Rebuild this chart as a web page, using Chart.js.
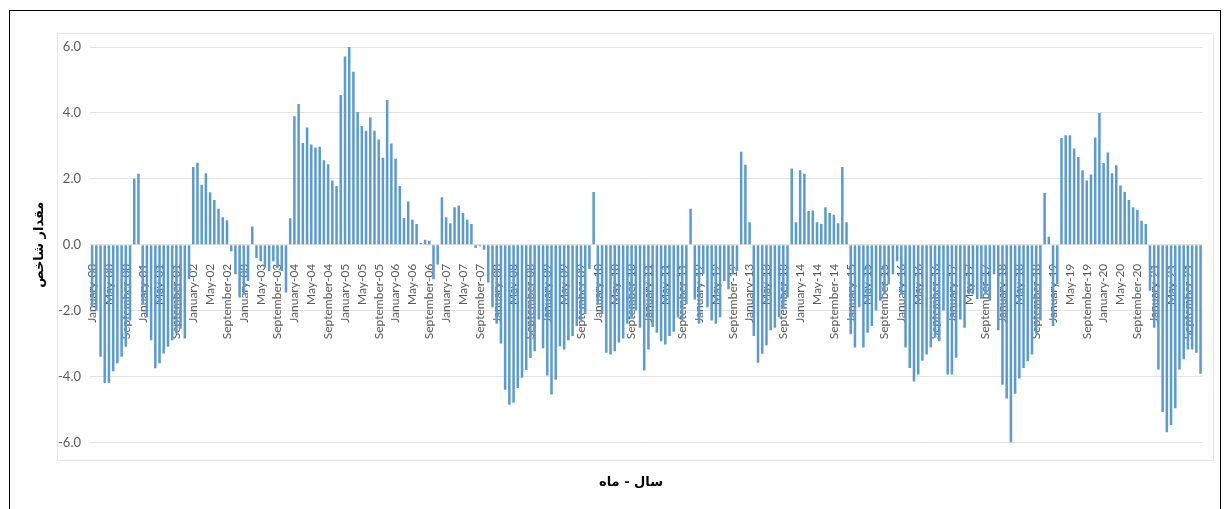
<!DOCTYPE html>
<html>
<head>
<meta charset="utf-8">
<script src="https://cdn.jsdelivr.net/npm/chart.js@4.4.0/dist/chart.umd.min.js"></script>
<style>
  html, body { margin: 0; padding: 0; background: #fff; }
  #wrap { position: relative; width: 1226px; height: 509px; overflow: hidden; }
  #frame { position: absolute; left: 9px; top: 10px; width: 1210px; height: 520px; border: 1px solid #000; }
  #plotbox { position: absolute; left: 57px; top: 33px; width: 1155px; height: 426px; border: 1px solid #e6e6e6; }
  canvas { position: absolute; left: 0; top: 0; }
</style>
</head>
<body>
<div id="wrap">
  <div id="frame"></div>
  <div id="plotbox"></div>
  <canvas id="chart" width="1226" height="509"></canvas>
</div>
<script>
  // month names and two digit years used for the category labels
  const months = ["January", "February", "March", "April", "May", "June",
    "July", "August", "September", "October", "November", "December"];
  const years = ["00", "01", "02", "03", "04", "05", "06", "07", "08", "09", "10",
    "11", "12", "13", "14", "15", "16", "17", "18", "19", "20", "21"];

  // index value, one array per year (Jan..Dec)
  const v2000 = [-1.9, -2.0, -3.4, -4.2, -4.2, -3.84, -3.6, -3.4, -3.1, -2.3, 2.0, 2.15];
  const v2001 = [-1.8, -2.2, -2.9, -3.75, -3.6, -3.3, -3.1, -2.9, -2.7, -2.55, -2.85, -1.05];
  const v2002 = [2.36, 2.49, 1.82, 2.17, 1.59, 1.36, 1.09, 0.83, 0.74, -0.2, -0.9, -1.6];
  const v2003 = [-1.5, -1.1, 0.55, -0.4, -0.5, -0.7, -0.8, -0.5, -0.7, -0.8, -1.45, 0.8];
  const v2004 = [3.9, 4.27, 3.09, 3.56, 3.04, 2.95, 2.97, 2.56, 2.44, 1.95, 1.78, 4.54];
  const v2005 = [5.71, 6.0, 5.25, 4.03, 3.6, 3.46, 3.86, 3.46, 3.19, 2.64, 4.39, 3.07];
  const v2006 = [2.61, 1.78, 0.81, 1.31, 0.76, 0.63, 0.05, 0.15, 0.12, -1.05, -0.6, 1.44];
  const v2007 = [0.83, 0.65, 1.14, 1.19, 0.96, 0.76, 0.63, -0.1, -0.05, -0.15, -1.15, -1.9];
  const v2008 = [-2.4, -3.0, -4.4, -4.86, -4.8, -4.35, -4.04, -3.8, -3.44, -3.23, -2.27, -3.14];
  const v2009 = [-3.97, -4.55, -4.1, -3.08, -3.18, -2.9, -2.77, -2.47, -2.3, -2.1, -0.74, 1.6];
  const v2010 = [-1.8, -2.1, -3.28, -3.33, -3.23, -2.97, -2.85, -2.4, -2.2, -2.0, -2.52, -3.82];
  const v2011 = [-3.18, -2.5, -2.67, -2.93, -3.03, -2.77, -2.64, -2.2, -2.3, -1.8, 1.09, -1.66];
  const v2012 = [-2.4, -0.9, -1.9, -2.3, -2.4, -2.2, -1.1, -1.35, -0.9, -0.8, 2.82, 2.43];
  const v2013 = [0.68, -2.77, -3.58, -3.31, -3.05, -2.6, -2.52, -2.2, -1.9, -1.6, 2.31, 0.68];
  const v2014 = [2.26, 2.15, 1.02, 1.04, 0.68, 0.63, 1.14, 0.96, 0.91, 0.65, 2.36, 0.68];
  const v2015 = [-2.72, -3.12, -1.9, -3.12, -2.67, -2.47, -2.0, -1.7, -1.5, -1.2, -0.9, -0.5];
  const v2016 = [-1.5, -3.12, -3.74, -4.15, -3.94, -3.52, -3.33, -3.12, -2.82, -2.93, -2.0, -3.94];
  const v2017 = [-3.94, -3.43, -2.27, -2.52, -1.5, -1.5, -1.65, -1.6, -1.5, -1.7, -0.9, -2.6];
  const v2018 = [-4.25, -4.67, -6.0, -4.52, -4.06, -3.74, -3.54, -3.33, -2.7, -2.3, 1.57, 0.24];
  const v2019 = [-2.47, -1.2, 3.24, 3.32, 3.32, 2.92, 2.66, 2.26, 1.95, 2.13, 3.25, 4.0];
  const v2020 = [2.48, 2.8, 2.17, 2.41, 1.8, 1.6, 1.36, 1.14, 1.06, 0.73, 0.63, -1.4];
  const v2021 = [-2.52, -3.79, -5.08, -5.69, -5.47, -4.96, -3.79, -3.48, -3.18, -3.18, -3.28, -3.92];

  const yTicks = [-6, -4, -2, 0, 2, 4, 6];

  const labels = [];
  years.forEach(function(y) {
    months.forEach(function(m) { labels.push(m + "-" + y); });
  });
  const values = [].concat(v2000, v2001, v2002, v2003, v2004, v2005, v2006, v2007,
    v2008, v2009, v2010, v2011, v2012, v2013, v2014, v2015, v2016, v2017, v2018,
    v2019, v2020, v2021);

  const tickFont = { family: "Lato, 'Open Sans', sans-serif", size: 12 };
  const titleFont = { family: "'DejaVu Sans', sans-serif", size: 13, weight: "bold" };

  const ctx = document.getElementById("chart").getContext("2d");
  const chart = new Chart(ctx, {
    type: "bar",
    data: {
      labels: labels,
      datasets: [{
        data: values,
        backgroundColor: "#5b9bd5",
        borderWidth: 0,
        categoryPercentage: 1,
        barPercentage: 0.6
      }]
    },
    options: {
      responsive: false,
      animation: false,
      // left padding 57 so the bottom title is centred on the plot frame
      layout: { padding: { left: 57, right: 21, top: 47, bottom: 9 } },
      plugins: {
        legend: { display: false },
        tooltip: { enabled: false },
        title: {
          display: true,
          position: "bottom",
          text: "سال - ماه",
          color: "#000",
          font: titleFont,
          padding: { top: 32, bottom: 10 }
        }
      },
      scales: {
        x: {
          position: { y: 0 },
          z: 1,
          grid: { display: false },
          border: { display: false },
          ticks: {
            autoSkip: false,
            minRotation: 90,
            maxRotation: 90,
            padding: 11,
            color: "#595959",
            font: tickFont,
            callback: function(v, i) { return i % 4 === 0 ? labels[i] : ""; }
          },
          afterFit: function(scale) { scale.height = 0; }
        },
        y: {
          min: -6,
          max: 6,
          afterBuildTicks: function(scale) {
            scale.ticks = yTicks.map(function(v) { return { value: v }; });
          },
          ticks: {
            padding: 9,
            color: "#595959",
            font: { family: "Lato, 'Open Sans', sans-serif", size: 13 },
            callback: function(v) { return v.toFixed(1); }
          },
          grid: { color: "#e3e3e3", drawTicks: false },
          border: { display: false },
          title: {
            display: true,
            text: "مقدار شاخص",
            color: "#000",
            font: titleFont,
            padding: { top: -25, bottom: 0 }
          },
          afterFit: function(scale) { scale.width = 33; }
        }
      }
    }
  });
</script>
</body>
</html>
